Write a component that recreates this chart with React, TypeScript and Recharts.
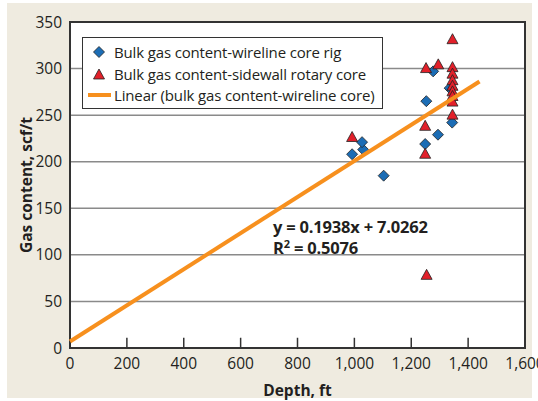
import {
  CartesianGrid,
  ReferenceArea,
  ReferenceLine,
  Scatter,
  ScatterChart,
  XAxis,
  YAxis,
} from 'recharts'

// depth (ft) and bulk gas content (scf/t)
const wirelineDepth = [992, 1031, 1027, 1103, 1249, 1253, 1277, 1294, 1335, 1344]
const wirelineGas = [208, 213, 221, 185, 219, 265, 297, 229, 279, 242]

const sidewallDepth = [992, 1249, 1249, 1252, 1254, 1295, 1345, 1345, 1345, 1345, 1345, 1345, 1345, 1345, 1345]
const sidewallGas = [226, 238, 208, 300, 78, 304, 331, 301, 294, 287, 281, 275, 270, 264, 250]

// linear trend endpoints (y = 0.1938x + 7.0262)
const trendDepth = [0, 1440]
const trendGas = [7.03, 286.1]

const xTicks = [0, 200, 400, 600, 800, 1000, 1200, 1400, 1600]
const yTicks = [0, 50, 100, 150, 200, 250, 300, 350]

const seriesNames = [
  'Bulk gas content-wireline core rig',
  'Bulk gas content-sidewall rotary core',
  'Linear (bulk gas content-wireline core)',
]

const BLUE = '#1c6db5'
const RED = '#e2202a'
const ORANGE = '#f7901e'
const FONT = '"Open Sans", sans-serif'

const zip = (xs: number[], ys: number[]) => xs.map((x, i) => ({ depth: x, gas: ys[i] }))

const wireline = zip(wirelineDepth, wirelineGas)
const sidewall = zip(sidewallDepth, sidewallGas)
const trend = zip(trendDepth, trendGas)

function Diamond({ cx, cy }: any) {
  const r = 5.5
  return (
    <path
      d={`M${cx},${cy - r}L${cx + r},${cy}L${cx},${cy + r}L${cx - r},${cy}Z`}
      fill={BLUE}
      stroke="#222"
      strokeWidth={0.8}
    />
  )
}

function Triangle({ cx, cy }: any) {
  const h = 10
  const w = 11
  return (
    <path
      d={`M${cx},${cy - h * 0.6}L${cx + w / 2},${cy + h * 0.4}L${cx - w / 2},${cy + h * 0.4}Z`}
      fill={RED}
      stroke="#222"
      strokeWidth={0.8}
    />
  )
}

function LegendBox() {
  return (
    <div
      style={{
        position: 'absolute',
        left: 82,
        top: 37,
        width: 299,
        height: 70,
        background: '#fff',
        border: '1.5px solid #333',
        fontFamily: FONT,
        fontSize: 15,
        letterSpacing: -0.15,
        color: '#231f20',
      }}
    >
      {seriesNames.map((name, i) => (
        <div
          key={name}
          style={{ position: 'absolute', left: 0, top: 4 + i * 21.5, height: 20, display: 'flex', alignItems: 'center' }}
        >
          <svg width={30} height={20} style={{ display: 'block' }}>
            {i === 0 && <Diamond cx={16} cy={10} />}
            {i === 1 && <Triangle cx={16} cy={11} />}
            {i === 2 && <line x1={5} x2={28} y1={10} y2={10} stroke={ORANGE} strokeWidth={4} />}
          </svg>
          <span style={{ whiteSpace: 'nowrap', marginLeft: 1 }}>{name}</span>
        </div>
      ))}
    </div>
  )
}

export default function App() {
  return (
    <div style={{ position: 'absolute', left: 0, top: 0, width: 538, height: 401 }}>
      <div
        style={{ position: 'absolute', left: 7, top: 3, width: 525, height: 395, background: '#efebe0' }}
      />
      <ScatterChart
        width={538}
        height={401}
        margin={{ top: 22, right: 13, bottom: 0, left: 0 }}
        style={{ position: 'absolute', left: 0, top: 0 }}
      >
        <CartesianGrid vertical={false} horizontal fill="#fff" stroke="#8a8a8a" strokeWidth={1.5} />
        <XAxis
          type="number"
          dataKey="depth"
          domain={[0, 1600]}
          ticks={xTicks}
          interval={0}
          height={53}
          axisLine={false}
          tickLine={false}
          tickSize={0}
          tickMargin={10}
          tickFormatter={(v: number) => v.toLocaleString('en-US')}
          tick={{ fill: '#231f20', fontSize: 15.5, fontFamily: FONT }}
          label={{
            value: 'Depth, ft',
            position: 'insideBottom',
            offset: 5,
            fill: '#231f20',
            fontSize: 15.5,
            fontWeight: 700,
            fontFamily: FONT,
          }}
        />
        <YAxis
          type="number"
          dataKey="gas"
          domain={[0, 350]}
          ticks={yTicks}
          interval={0}
          width={70}
          axisLine={false}
          tickLine={false}
          tickSize={0}
          tickMargin={8}
          tick={{ fill: '#231f20', fontSize: 15.5, fontFamily: FONT }}
          label={{
            value: 'Gas content, scf/t',
            angle: -90,
            position: 'center',
            dx: -9,
            fill: '#231f20',
            fontSize: 15.5,
            fontWeight: 700,
            fontFamily: FONT,
          }}
        />
        {/* inward tick marks on the depth axis */}
        {xTicks.map((t) => (
          <ReferenceLine
            key={t}
            segment={[
              { x: t, y: 0 },
              { x: t, y: 11 },
            ]}
            stroke="#333"
            strokeWidth={1.5}
            ifOverflow="visible"
          />
        ))}
        <ReferenceArea
          x1={0}
          x2={1600}
          y1={0}
          y2={350}
          fill="none"
          stroke="#333"
          strokeWidth={2}
          ifOverflow="visible"
        />
        <Scatter name={seriesNames[0]} data={wireline} shape={Diamond} isAnimationActive={false} />
        <Scatter name={seriesNames[1]} data={sidewall} shape={Triangle} isAnimationActive={false} />
        <Scatter
          name={seriesNames[2]}
          data={trend}
          line={{ stroke: ORANGE, strokeWidth: 4 }}
          shape={() => <g />}
          isAnimationActive={false}
        />
      </ScatterChart>
      <LegendBox />
      <div
        style={{
          position: 'absolute',
          left: 273,
          top: 216,
          fontFamily: FONT,
          fontSize: 16.5,
          fontWeight: 700,
          color: '#231f20',
          lineHeight: '21px',
          letterSpacing: -0.2,
        }}
      >
        <div>y = 0.1938x + 7.0262</div>
        <div>
          R<sup style={{ fontSize: 11, lineHeight: 0 }}>2</sup> = 0.5076
        </div>
      </div>
    </div>
  )
}
